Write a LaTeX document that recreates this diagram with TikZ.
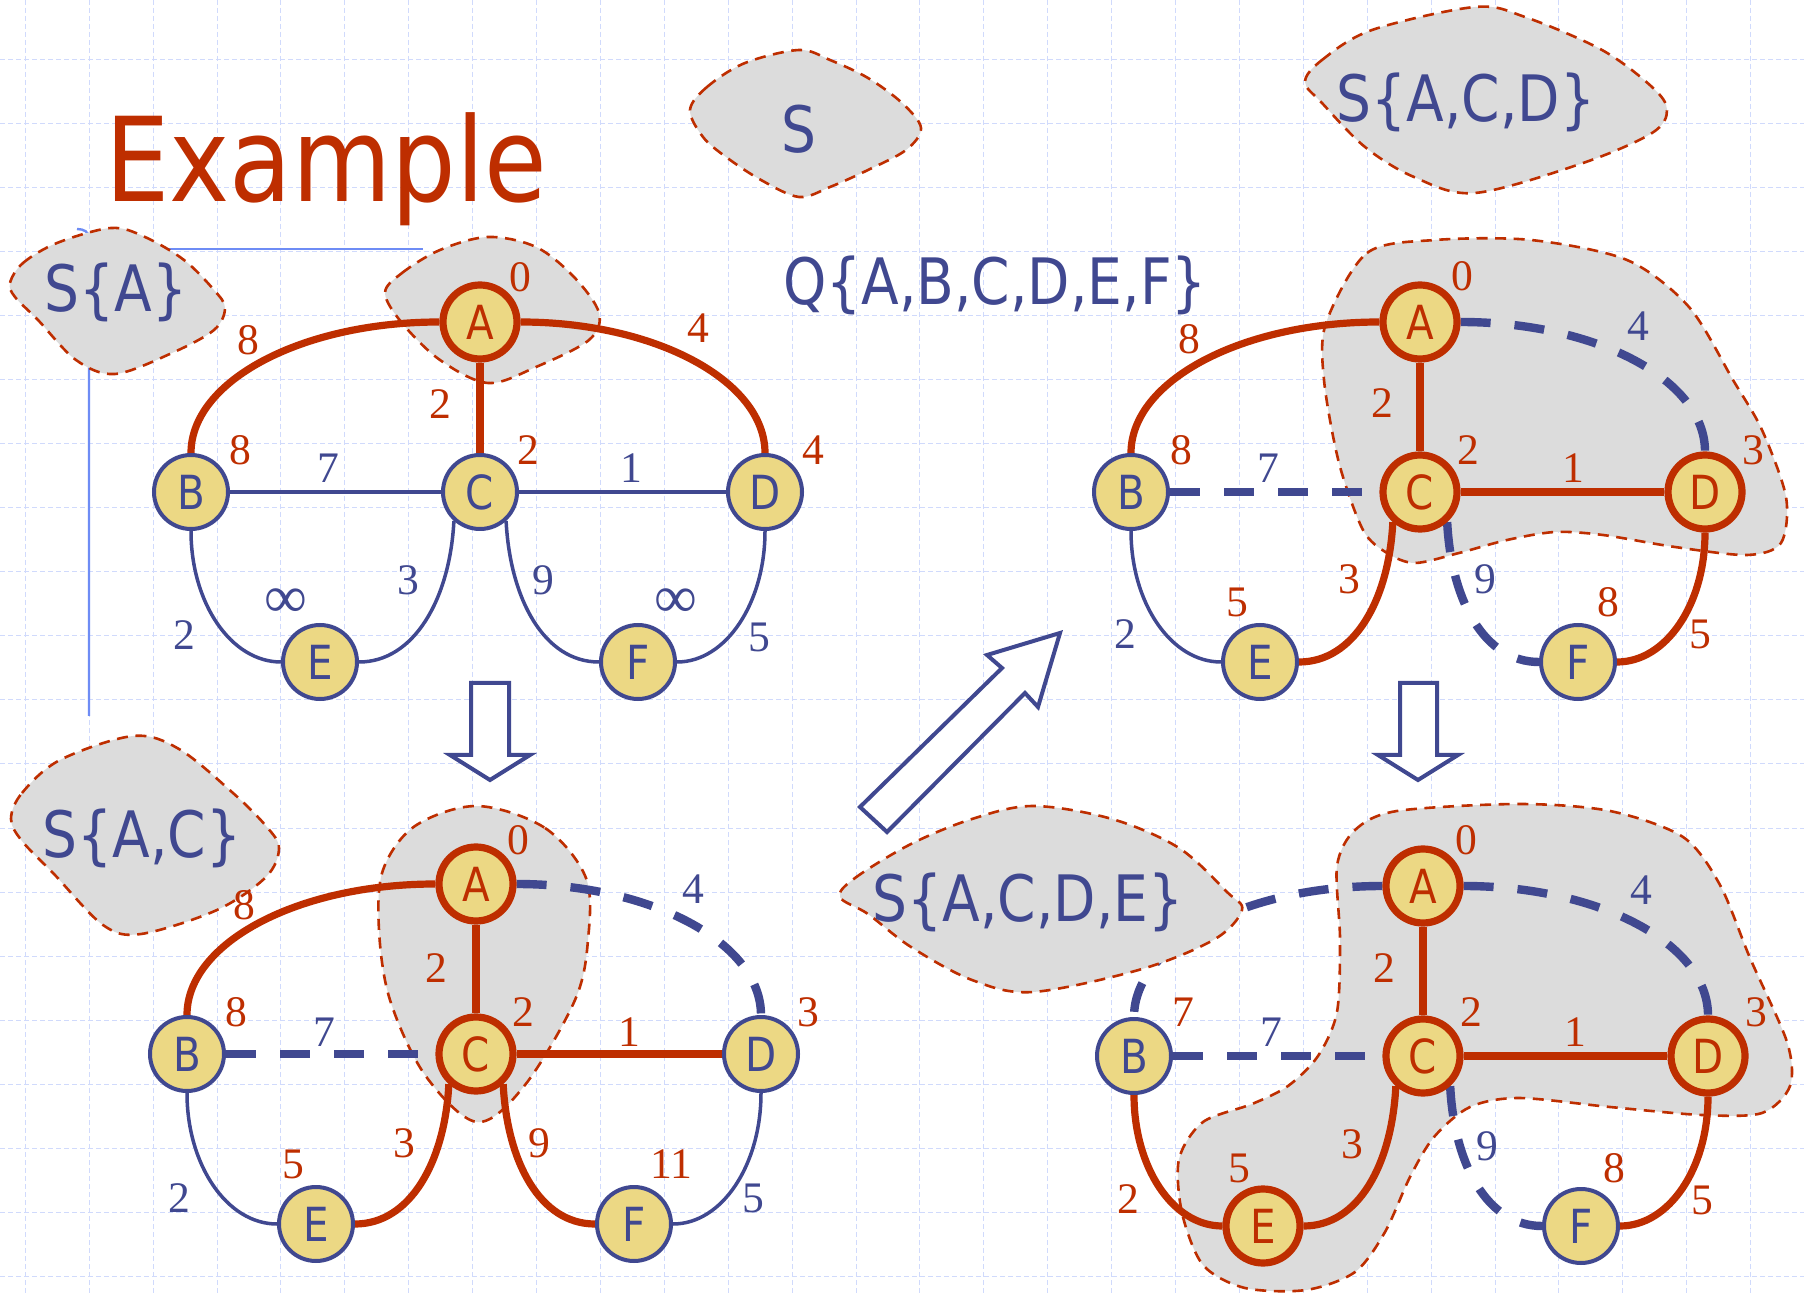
\documentclass[tikz,border=0pt]{standalone}
\usepackage{fontspec}
\setmainfont{Liberation Serif}
\newfontfamily\sansface{DejaVu Sans}[FakeStretch=0.86]
\newfontfamily\titleface{DejaVu Sans}[FakeStretch=0.87]

\definecolor{dred}{RGB}{190,46,0}
\definecolor{dblue}{RGB}{64,72,144}
\definecolor{vfill}{RGB}{236,216,132}
\definecolor{blobgray}{RGB}{220,220,220}
\definecolor{gridblue}{RGB}{208,218,252}
\definecolor{guideblue}{RGB}{110,140,245}

\pgfdeclarelayer{gridlayer}
\pgfdeclarelayer{bloblayer}
\pgfdeclarelayer{edgelayer}
\pgfsetlayers{gridlayer,bloblayer,edgelayer,main}

\tikzset{
  gridline/.style={draw=gridblue, line width=0.5pt, dash pattern=on 2.5pt off 1.5pt},
  guide/.style={draw=guideblue, line width=1.2pt},
  blob/.style={fill=blobgray, draw=dred, line width=1.3pt, dash pattern=on 5.5pt off 3.8pt},
  vtx/.style={circle, minimum size=37pt, inner sep=0pt, fill=vfill, draw=dblue,
    line width=2pt, text=dblue, font=\sansface\fontsize{23.5}{24}\selectfont},
  vtxin/.style={vtx, draw=dred, line width=3.6pt, text=dred},
  bedge/.style={draw=dblue, line width=1.75pt},
  redge/.style={draw=dred, line width=3.6pt},
  dedge/.style={draw=dblue, line width=4.2pt, dash pattern=on 15pt off 12pt},
  wl/.style={inner sep=0pt, font=\fontsize{21.8}{24}\selectfont},
  inf/.style={inner sep=0pt, font=\fontsize{30}{32}\selectfont},
  slabel/.style={inner sep=0pt, anchor=base, text=dblue, font=\sansface\fontsize{32}{34}\selectfont},
  blockarrow/.style={draw=dblue, fill=white, line width=2pt, line join=miter},
}

% six vertices of one graph, placed relative to vertex A
\newcommand\graphnodes[7]{%
  \node[#2] (a#1) at (0,0) {A};
  \node[#3] (b#1) at (-289,170) {B};
  \node[#4] (c#1) at (0,170) {C};
  \node[#5] (d#1) at (285,170) {D};
  \node[#6] (e#1) at (-160,340) {E};
  \node[#7] (f#1) at (158,340) {F};
}
% edges of one graph: AB, AD, BC, CD, BE, CE, CF, DF (AC is always in the tree)
\newcommand\graphedges[9]{%
  \draw[#2] (a#1.west) .. controls +(-138,0) and +(0,-72) .. (b#1.north);
  \draw[#3] (a#1.east) .. controls +(135,0) and +(0,-72) .. (d#1.north);
  \draw[redge] (a#1) -- (c#1);
  \draw[#4] (b#1) -- (c#1);
  \draw[#5] (c#1) -- (d#1);
  \draw[#6] (b#1.south) .. controls +(0,72) and +(-50,0) .. (e#1.west);
  \draw[#7] (c#1.228) .. controls +(-4,78) and +(55,0) .. (e#1.east);
  \draw[#8] (c#1.312) .. controls +(4,78) and +(-55,0) .. (f#1.west);
  \draw[#9] (d#1.south) .. controls +(0,72) and +(49,0) .. (f#1.east);
}
% a weight or distance label
\newcommand\wlab[5]{\node[wl,text=#2] (#1) at (#3,#4) {#5};}

\begin{document}
\begin{tikzpicture}[x=0.5pt,y=-0.5pt]
\useasboundingbox (0,0) rectangle (1804,1293);

% background grid and guide lines
\begin{pgfonlayer}{gridlayer}
  \fill[white] (0,0) rectangle (1804,1293);
  \foreach \i in {0,...,27}
    \draw[gridline] ({25.3+63.9*\i},0) -- ({25.3+63.9*\i},1293);
  \foreach \j in {0,...,19}
    \draw[gridline] (0,{60+64*\j}) -- (1804,{60+64*\j});
  \draw[guide] (89,716) -- (89,238) .. controls (89,232) and (84,229) .. (77,229);
  \draw[guide] (160,249) -- (423,249);
\end{pgfonlayer}

% set regions
\begin{pgfonlayer}{bloblayer}
  % S
  \path[blob] plot[smooth cycle, tension=0.55] coordinates {
    (690,110) (707,87) (745,63) (799,50) (830,60) (868,78) (902,103) (921,128)
    (906,150) (868,170) (830,187) (799,197) (761,180) (726,157) (703,137)};
  % S{A}
  \path[blob] plot[smooth cycle, tension=0.55] coordinates {
    (10,283) (23,263) (57,243) (111,228) (145,237) (184,260) (214,290) (225,308)
    (214,330) (172,353) (115,374) (76,360) (38,320) (15,297)};
  % S{A,C}
  \path[blob] plot[smooth cycle, tension=0.55] coordinates {
    (11,819) (22,793) (60,760) (133,736) (179,749) (233,793) (266,826) (279,848)
    (266,877) (217,910) (141,934) (103,925) (54,874) (22,841)};
  % S{A,C,D}
  \path[blob] plot[smooth cycle, tension=0.55] coordinates {
    (1305,82) (1322,60) (1372,30) (1475,7) (1525,17) (1602,50) (1652,87) (1667,110)
    (1652,133) (1583,163) (1475,193) (1414,177) (1365,147) (1322,103)};
  % region of the first graph
  \path[blob] plot[smooth cycle, tension=0.55] coordinates {
    (385,293) (402,273) (440,250) (488,237) (536,247) (574,277) (599,313)
    (589,340) (536,367) (488,383) (440,360) (402,323)};
  % region of the second graph
  \path[blob] plot[smooth cycle, tension=0.55] coordinates {
    (477,806) (545,828) (586,878) (588,940) (575,1000) (525,1085) (477,1122)
    (425,1075) (390,1000) (379,930) (383,870) (415,826)};
  % region of the third graph
  \path[blob] plot[smooth cycle, tension=0.5] coordinates {
    (1326,323) (1367,253) (1435,240) (1531,240) (1627,260) (1689,307) (1733,380)
    (1762,430) (1786,497) (1781,543) (1747,555) (1675,547) (1603,535) (1555,532)
    (1507,540) (1459,553) (1415,563) (1387,553) (1363,530) (1339,463) (1324,380)};
  % region of the fourth graph
  \path[blob] plot[smooth cycle, tension=0.5] coordinates {
    (1337,866) (1355,830) (1397,811) (1519,804) (1610,811) (1683,837) (1720,885)
    (1750,958) (1787,1042) (1790,1086) (1762,1113) (1702,1115) (1610,1107)
    (1519,1098) (1470,1107) (1434,1137) (1410,1177) (1385,1232) (1355,1272)
    (1306,1290) (1245,1288) (1203,1265) (1182,1213) (1179,1159) (1203,1122)
    (1252,1104) (1288,1086) (1318,1056) (1337,1012) (1340,939)};
\end{pgfonlayer}

% vertices
\begin{scope}[shift={(480,322)}]
  \graphnodes{1}{vtxin}{vtx}{vtx}{vtx}{vtx}{vtx}
\end{scope}
\begin{scope}[shift={(476,884)}]
  \graphnodes{2}{vtxin}{vtx}{vtxin}{vtx}{vtx}{vtx}
\end{scope}
\begin{scope}[shift={(1420,322)}]
  \graphnodes{3}{vtxin}{vtx}{vtxin}{vtxin}{vtx}{vtx}
\end{scope}
\begin{scope}[shift={(1423,886)}]
  \graphnodes{4}{vtxin}{vtx}{vtxin}{vtxin}{vtxin}{vtx}
\end{scope}

% edges
\begin{pgfonlayer}{edgelayer}
  \graphedges{1}{redge}{redge}{bedge}{bedge}{bedge}{bedge}{bedge}{bedge}
  \graphedges{2}{redge}{dedge}{dedge}{redge}{bedge}{redge}{redge}{bedge}
  \graphedges{3}{redge}{dedge}{dedge}{redge}{bedge}{redge}{dedge}{redge}
  \graphedges{4}{dedge}{dedge}{dedge}{redge}{redge}{redge}{dedge}{redge}
\end{pgfonlayer}

% S{A,C,D,E} lies over the A--B edge of the fourth graph
\path[blob] plot[smooth cycle, tension=0.55] coordinates {
  (840,897) (855,878) (911,844) (972,819) (1033,806) (1112,819) (1179,848) (1227,892)
  (1242,910) (1215,939) (1142,969) (1033,992) (972,980) (911,947) (868,914)};

% block arrows between the stages
\path[blockarrow] (471,683) -- (509,683) -- (509,755) -- (530,755) -- (490,780)
  -- (450,755) -- (471,755) -- cycle;
\path[blockarrow] (1400,683) -- (1437,683) -- (1437,755) -- (1458,755) -- (1418,780)
  -- (1378,755) -- (1400,755) -- cycle;
\path[blockarrow] (860,807) -- (1002,668) -- (987,655) -- (1060,633) -- (1038,707)
  -- (1025,693) -- (887,832) -- cycle;

% titles and set names
\node[anchor=base west, inner sep=0pt, text=dred,
  font=\titleface\fontsize{58.5}{60}\selectfont] (title) at (105,202) {Example};
\node[slabel] (sempty) at (799,153) {S};
\node[slabel] (qall) at (995,305) {Q\{A,B,C,D,E,F\}};
\node[slabel] (sa) at (116,312) {S\{A\}};
\node[slabel] (sac) at (142,857) {S\{A,C\}};
\node[slabel] (sacd) at (1466,122) {S\{A,C,D\}};
\node[slabel] (sacde) at (1028,921) {S\{A,C,D,E\}};

% labels of the first graph
\begin{scope}[shift={(480,322)}]
  \wlab{w1a}{dred}{40}{-45}{0}
  \wlab{w1b}{dred}{-232}{18}{8}
  \wlab{w1c}{dred}{-40}{82}{2}
  \wlab{w1d}{dred}{218}{6}{4}
  \wlab{w1e}{dred}{-240}{128}{8}
  \wlab{w1f}{dblue}{-152}{146}{7}
  \wlab{w1g}{dred}{48}{128}{2}
  \wlab{w1h}{dblue}{151}{146}{1}
  \wlab{w1i}{dred}{333}{128}{4}
  \node[inf,text=dblue] (w1j) at (-194,281) {∞};
  \wlab{w1k}{dblue}{-72}{258}{3}
  \wlab{w1l}{dblue}{-296}{313}{2}
  \wlab{w1m}{dblue}{63}{258}{9}
  \node[inf,text=dblue] (w1n) at (196,281) {∞};
  \wlab{w1o}{dblue}{279}{315}{5}
\end{scope}
% labels of the second graph
\begin{scope}[shift={(476,884)}]
  \wlab{w2a}{dred}{42}{-44}{0}
  \wlab{w2b}{dred}{-232}{21}{8}
  \wlab{w2c}{dred}{-40}{84}{2}
  \wlab{w2d}{dblue}{217}{5}{4}
  \wlab{w2e}{dred}{-240}{128}{8}
  \wlab{w2f}{dblue}{-152}{148}{7}
  \wlab{w2g}{dred}{47}{128}{2}
  \wlab{w2h}{dred}{153}{148}{1}
  \wlab{w2i}{dred}{332}{128}{3}
  \wlab{w2j}{dred}{-183}{280}{5}
  \wlab{w2k}{dred}{-72}{259}{3}
  \wlab{w2l}{dblue}{-297}{314}{2}
  \wlab{w2m}{dred}{63}{259}{9}
  \wlab{w2n}{dred}{195}{280}{11}
  \wlab{w2o}{dblue}{277}{314}{5}
\end{scope}
% labels of the third graph
\begin{scope}[shift={(1420,322)}]
  \wlab{w3a}{dred}{42}{-46}{0}
  \wlab{w3b}{dred}{-231}{17}{8}
  \wlab{w3c}{dred}{-38}{81}{2}
  \wlab{w3d}{dblue}{218}{4}{4}
  \wlab{w3e}{dred}{-239}{128}{8}
  \wlab{w3f}{dblue}{-152}{146}{7}
  \wlab{w3g}{dred}{48}{128}{2}
  \wlab{w3h}{dred}{153}{146}{1}
  \wlab{w3i}{dred}{333}{128}{3}
  \wlab{w3j}{dred}{-183}{280}{5}
  \wlab{w3k}{dred}{-71}{257}{3}
  \wlab{w3l}{dblue}{-295}{312}{2}
  \wlab{w3m}{dblue}{65}{257}{9}
  \wlab{w3n}{dred}{188}{280}{8}
  \wlab{w3o}{dred}{280}{312}{5}
\end{scope}
% labels of the fourth graph
\begin{scope}[shift={(1423,886)}]
  \wlab{w4a}{dred}{43}{-46}{0}
  \wlab{w4c}{dred}{-39}{82}{2}
  \wlab{w4d}{dblue}{218}{4}{4}
  \wlab{w4e}{dred}{-240}{126}{7}
  \wlab{w4f}{dblue}{-152}{146}{7}
  \wlab{w4g}{dred}{48}{126}{2}
  \wlab{w4h}{dred}{152}{146}{1}
  \wlab{w4i}{dred}{333}{126}{3}
  \wlab{w4j}{dred}{-184}{282}{5}
  \wlab{w4k}{dred}{-71}{258}{3}
  \wlab{w4l}{dred}{-295}{313}{2}
  \wlab{w4m}{dblue}{64}{260}{9}
  \wlab{w4n}{dred}{191}{282}{8}
  \wlab{w4o}{dred}{279}{314}{5}
\end{scope}
\end{tikzpicture}
\end{document}
